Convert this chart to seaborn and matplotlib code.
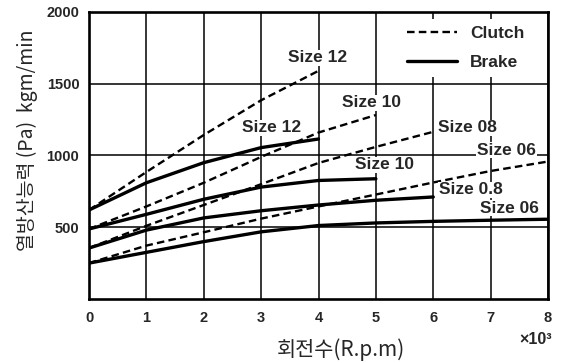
import matplotlib
matplotlib.use("Agg")
import matplotlib.pyplot as plt
from matplotlib.lines import Line2D
import seaborn as sns
import pandas as pd

# ---- data (rpm in thousands, heat dissipation kgm/min) ----
clutch_12_x = [0, 1, 2, 3, 4]
clutch_12_y = [620, 885, 1143, 1385, 1590]
clutch_10_x = [0, 1, 2, 3, 4, 5]
clutch_10_y = [488, 645, 810, 990, 1160, 1282]
clutch_08_x = [0, 1, 2, 3, 4, 5, 6]
clutch_08_y = [355, 510, 655, 800, 948, 1060, 1165]
clutch_06_x = [0, 1, 2, 3, 4, 5, 6, 7, 8]
clutch_06_y = [250, 372, 465, 560, 645, 728, 812, 892, 958]

brake_12_x = [0, 1, 2, 3, 4]
brake_12_y = [620, 810, 950, 1055, 1115]
brake_10_x = [0, 1, 2, 3, 4, 5]
brake_10_y = [488, 590, 695, 780, 826, 838]
brake_08_x = [0, 1, 2, 3, 4, 5, 6]
brake_08_y = [355, 480, 565, 615, 655, 688, 711]
brake_06_x = [0, 1, 2, 3, 4, 5, 6, 7, 8]
brake_06_y = [250, 325, 400, 468, 512, 530, 541, 549, 556]

x_ticks = [0, 1, 2, 3, 4, 5, 6, 7, 8]
y_ticks = [500, 1000, 1500, 2000]
size_labels = ["Size 12", "Size 12", "Size 10", "Size 08", "Size 06",
               "Size 10", "Size 0.8", "Size 06"]

series = [
    ("Clutch", clutch_12_x, clutch_12_y),
    ("Clutch", clutch_10_x, clutch_10_y),
    ("Clutch", clutch_08_x, clutch_08_y),
    ("Clutch", clutch_06_x, clutch_06_y),
    ("Brake", brake_12_x, brake_12_y),
    ("Brake", brake_10_x, brake_10_y),
    ("Brake", brake_08_x, brake_08_y),
    ("Brake", brake_06_x, brake_06_y),
]

sns.set_style("white")
plt.rcParams["font.family"] = ["Liberation Sans", "DejaVu Sans"]

W, H = 564, 363
fig = plt.figure(figsize=(W / 100, H / 100), dpi=100)
ax = fig.add_axes([89 / W, 1 - 299 / H, (548 - 89) / W, (299 - 12) / H])

dash = (0, (3.2, 1.8))
for kind, xs, ys in series:
    df = pd.DataFrame({"rpm": xs, "power": ys})
    if kind == "Clutch":
        sns.lineplot(data=df, x="rpm", y="power", ax=ax, color="black",
                     linewidth=1.7, linestyle=dash, zorder=3)
    else:
        sns.lineplot(data=df, x="rpm", y="power", ax=ax, color="black",
                     linewidth=2.4, zorder=3)

ax.set_xlim(0, 8)
ax.set_ylim(0, 2000)
ax.set_xticks(x_ticks)
ax.set_yticks(y_ticks)
ax.set_xticklabels([str(v) for v in x_ticks], fontsize=10.5, fontweight="bold")
ax.set_yticklabels([str(v) for v in y_ticks], fontsize=10.5, fontweight="bold")
ax.tick_params(axis="both", length=0)
ax.tick_params(axis="x", pad=9)
ax.tick_params(axis="y", pad=7)
ax.grid(True, color="black", linewidth=1.1)
ax.set_axisbelow(True)
for s in ax.spines.values():
    s.set_color("black")
    s.set_linewidth(1.9)
ax.set_xlabel("")
ax.set_ylabel("")

# size annotations
label_pos = [(3.47, 1680), (2.67, 1192), (4.41, 1366), (6.08, 1192),
             (6.76, 1038), (4.63, 934), (6.10, 760), (6.81, 634)]
for txt, (lx, ly) in zip(size_labels, label_pos):
    ax.text(lx, ly, txt, fontsize=12.5, fontweight="bold", ha="left", va="center",
            zorder=5, bbox=dict(facecolor="white", edgecolor="none", pad=0.6))

# legend
handles = [Line2D([], [], color="black", linewidth=1.7, linestyle=dash),
           Line2D([], [], color="black", linewidth=2.4)]
leg = ax.legend(handles, ["Clutch", "Brake"], loc="upper left",
                bbox_to_anchor=((400 - 89) / 459, (299 - 19) / 287),
                borderaxespad=0, frameon=True, fancybox=False,
                framealpha=1, facecolor="white", edgecolor="none",
                prop={"weight": "bold", "size": 12.5}, handlelength=2.9,
                handletextpad=0.75, labelspacing=0.8, borderpad=0.4)
leg.set_zorder(6)

# axis texts
cjk = ["Noto Sans CJK KR", "DejaVu Sans"]
fig.text(552 / W, 1 - 339 / H, "×10³", ha="right", va="center",
         fontsize=11.5, fontweight="bold")
fig.text(341 / W, 1 - 350 / H, "회전수(R.p.m)", ha="center", va="center",
         fontsize=15, family=cjk, fontweight="medium")
fig.text(27 / W, 1 - 140 / H, "열방산능력 (Pa)  kgm/min", ha="center", va="center",
         rotation=90, fontsize=14, family=cjk, fontweight="medium")

fig.savefig("out.png", dpi=100)
